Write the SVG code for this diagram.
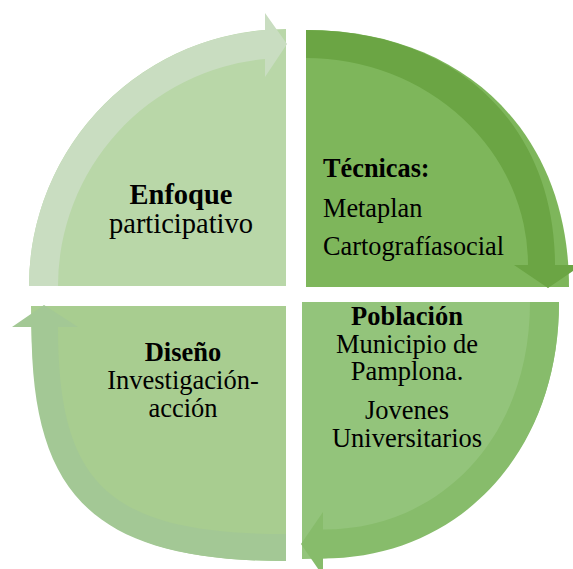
<svg xmlns="http://www.w3.org/2000/svg" width="573" height="569" viewBox="0 0 573 569">
<style>
text{font-family:"Liberation Serif","Times New Roman",serif;fill:#000}
.b{font-weight:bold}
.c{text-anchor:middle}
</style>
<rect width="573" height="569" fill="#fff"/>
<g id="enfoque">
<path d="M286,286 H29 A257,257 0 0 1 286,29 Z" fill="#B9D7A8"/>
<text class="c b" x="181" y="204" font-size="28.5">Enfoque</text>
<text class="c" x="181" y="233" font-size="28.5">participativo</text>
</g>
<g id="tecnicas">
<path d="M306,287 V30 C464,30 569,133 569,287 Z" fill="#7EB65B"/>
<text class="b" x="323" y="177" font-size="26.3">Técnicas:</text>
<text x="323" y="217" font-size="26.3">Metaplan</text>
<text x="323" y="255" font-size="26.3">Cartografíasocial</text>
</g>
<g id="poblacion">
<path d="M302,302 H559 C559,456 456,559 302,559 Z" fill="#93C47B"/>
<text class="c b" x="407" y="325" font-size="26.5">Población</text>
<text class="c" x="407" y="353" font-size="26.5">Municipio de</text>
<text class="c" x="407" y="380" font-size="26.5">Pamplona.</text>
<text class="c" x="407" y="419" font-size="26.5">Jovenes</text>
<text class="c" x="407" y="447" font-size="26.5">Universitarios</text>
</g>
<g id="diseno">
<path d="M286,306 H31 C31,497 95,561 286,561 Z" fill="#A8CD90"/>
<text class="c b" x="183" y="361" font-size="26.5">Diseño</text>
<text class="c" x="183" y="389" font-size="26.5">Investigación-</text>
<text class="c" x="183" y="417" font-size="26.5">acción</text>
</g>
<g id="connectors">
<path d="M29,286 A257,257 0 0 1 265,30 V13 L287,44 L265,77 V59 A228,228 0 0 0 58,286 Z" fill="#C9DDC1"/>
<path d="M306,30 C455,30 555,124 555,265 H582 L548,288 L514,265 H528 A222,207 0 0 0 306,58 Z" fill="#6BA544"/>
<path d="M559,302 C559,456 456,558.5 323,558.5 V576 L301,544 L323,512 V529.5 C439,530 530,439 530,302 Z" fill="#87BC6B"/>
<path d="M286,561 C95,561 31.5,497 31.5,327 H12 L44,305 L78,327 H58 C58,484 108,534 286,534 Z" fill="#A3C895"/>
</g>
</svg>
